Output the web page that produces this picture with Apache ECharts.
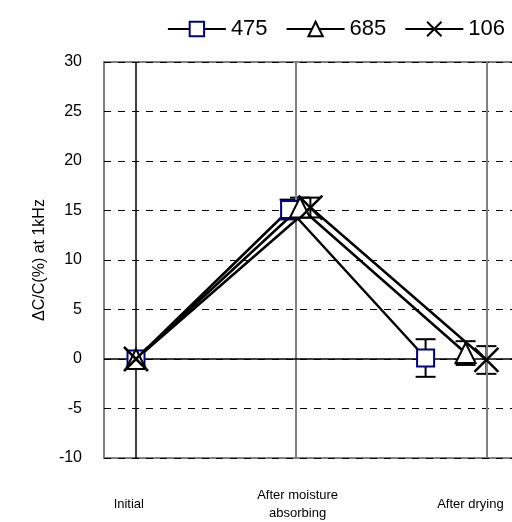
<!DOCTYPE html>
<html><head><meta charset="utf-8">
<script src="https://cdn.jsdelivr.net/npm/echarts@6/dist/echarts.min.js"></script>
<style>html,body{margin:0;padding:0;background:#fff;overflow:hidden;width:512px;height:522px}#c{width:540px;height:522px}</style>
</head><body><div id="c"></div>
<script>
// Category labels and their x positions
const categories = ['Initial', 'After moisture\nabsorbing', 'After drying'];
const categoryX = [-0.45, 10.1, 20.9];
// Vertical reference lines (x positions)
const verticalLines = [0, 10, 21.9];
// Y ticks
const yTicks = [-10, -5, 0, 5, 10, 15, 20, 25, 30];

const seriesNames = ['475', '685', '106'];
// Series 475
const x475 = [0, 9.6, 18.1];
const y475 = [0, 15.1, 0.1];
const e475 = [0, 1.0, 1.9];
// Series 685
const x685 = [0, 10.25, 20.6];
const y685 = [0, 15.3, 0.6];
const e685 = [0, 1.0, 1.2];
// Series 106
const x106 = [0, 10.9, 21.9];
const y106 = [0, 15.3, -0.1];
const e106 = [0, 1.0, 1.4];

const xs = [x475, x685, x106];
const ys = [y475, y685, y106];
const es = [e475, e685, e106];
const symbols = ['rect', 'triangle', 'path://M0,0L20,20M20,0L0,20'];
const symbolSizes = [17, 20, 24];
const borderColors = ['#000080', '#000', '#000'];
const fillColors = ['#fff', '#fff', 'rgba(0,0,0,0)'];

const chart = echarts.init(document.getElementById('c'));
const FONT = 'Liberation Sans, Arial, sans-serif';

const series = [];
// error bars
seriesNames.forEach((n, i) => {
  const data = xs[i].map((x, k) => [x, ys[i][k] - es[i][k], ys[i][k] + es[i][k]]).filter((d, k) => es[i][k] > 0);
  series.push({
    type: 'custom', name: n + '_err', z: 3, silent: true,
    data: data,
    renderItem: function (params, api) {
      const x = api.value(0);
      const lo = api.coord([x, api.value(1)]);
      const hi = api.coord([x, api.value(2)]);
      const w = 10;
      const st = { stroke: '#000', lineWidth: 2 };
      return { type: 'group', children: [
        { type: 'line', shape: { x1: lo[0], y1: lo[1], x2: hi[0], y2: hi[1] }, style: st },
        { type: 'line', shape: { x1: lo[0] - w, y1: lo[1], x2: lo[0] + w, y2: lo[1] }, style: st },
        { type: 'line', shape: { x1: hi[0] - w, y1: hi[1], x2: hi[0] + w, y2: hi[1] }, style: st }
      ] };
    }
  });
});
seriesNames.forEach((n, i) => {
  const s = {
    type: 'line', name: n, z: 5,
    data: xs[i].map((x, k) => [x, ys[i][k]]),
    symbol: symbols[i], symbolSize: symbolSizes[i],
    showAllSymbol: true,
    lineStyle: { color: '#000', width: 2.5 },
    itemStyle: { color: fillColors[i], borderColor: borderColors[i], borderWidth: i === 2 ? 2.5 : 2 },
    animation: false
  };
  if (i === 0) {
    s.markLine = {
      silent: true, symbol: 'none', label: { show: false }, animation: false,
      data: verticalLines.map((v, k) => ({
        xAxis: v,
        lineStyle: { color: k === 0 ? '#000' : '#808080', width: k === 0 ? 1.5 : 2, type: 'solid' }
      })).concat([{ yAxis: 0, lineStyle: { color: '#000', width: 1.5, type: 'solid' } }])
    };
  }
  series.push(s);
});

chart.setOption({
  animation: false,
  backgroundColor: '#fff',
  textStyle: { fontFamily: FONT },
  legend: {
    data: seriesNames,
    right: 30, top: 13, itemWidth: 58, itemHeight: 18, itemGap: 18,
    textStyle: { fontSize: 22, color: '#000', fontFamily: FONT },
    inactiveColor: '#000'
  },
  grid: { left: 104, top: 62, width: 430, height: 396, show: true, borderColor: '#808080', borderWidth: 2, backgroundColor: 'transparent' },
  xAxis: {
    type: 'value', min: -2, max: 24.875,
    axisLine: { show: false }, axisTick: { show: false }, splitLine: { show: false },
    axisLabel: {
      customValues: categoryX, showMinLabel: true, showMaxLabel: true,
      formatter: function (v) { const k = categoryX.indexOf(v); return k >= 0 ? categories[k] : ''; },
      fontSize: 13, color: '#000', fontFamily: FONT, margin: 46, verticalAlign: 'middle', lineHeight: 18
    }
  },
  yAxis: {
    type: 'value', min: -10, max: 30, interval: 5,
    axisLine: { show: false }, axisTick: { show: false },
    axisLabel: { fontSize: 16, color: '#000', fontFamily: FONT, margin: 22 },
    splitLine: { show: true, lineStyle: { color: '#000', type: [7, 7], width: 1 } },
    name: 'ΔC/C(%) at 1kHz', nameLocation: 'middle', nameGap: 56, nameRotate: 90,
    nameTextStyle: { fontSize: 16, color: '#000', fontFamily: FONT }
  },
  series: series
});
</script></body></html>
